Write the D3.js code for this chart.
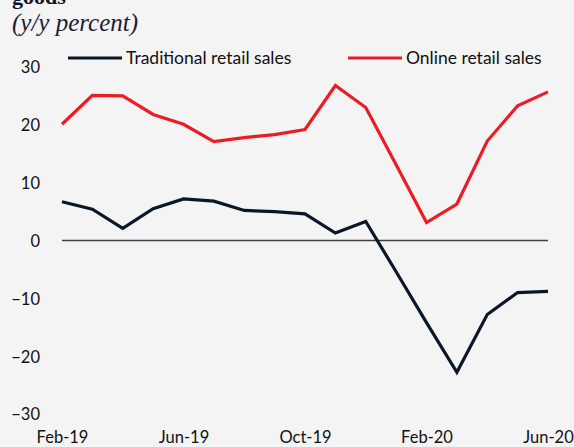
<!DOCTYPE html>
<html>
<head>
<meta charset="utf-8">
<script src="https://cdn.jsdelivr.net/npm/d3@7"></script>
<style>
html,body{margin:0;padding:0;background:#f4f4f4;}
svg{display:block;}
</style>
</head>
<body>
<svg id="chart" width="574" height="447"></svg>
<script>
const months = ["Feb-19","Mar-19","Apr-19","May-19","Jun-19","Jul-19","Aug-19","Sep-19","Oct-19","Nov-19","Dec-19","Jan-20","Feb-20","Mar-20","Apr-20","May-20","Jun-20"];
const traditional = [6.7, 5.4, 2.1, 5.5, 7.2, 6.8, 5.2, 5.0, 4.6, 1.3, 3.3, -5.4, -14.2, -22.8, -12.8, -9.0, -8.8];
const online = [20.1, 25.1, 25.0, 21.8, 20.1, 17.1, 17.8, 18.3, 19.2, 26.8, 23.0, 13.1, 3.1, 6.3, 17.2, 23.3, 25.7];
const xTickLabels = ["Feb-19","Jun-19","Oct-19","Feb-20","Jun-20"];
const yTicks = [30, 20, 10, 0, -10, -20, -30];
const seriesNames = ["Traditional retail sales", "Online retail sales"];
const seriesColors = ["#0c1629", "#ec1c24"];

const FONT = "Lato, 'Open Sans', sans-serif";
const svg = d3.select("#chart");
const x = d3.scalePoint().domain(months).range([62, 548]);
const y = d3.scaleLinear().domain([-30, 30]).range([414, 67]);

// title (partly cut off at top, as in the source)
svg.append("text").attr("x", 12).attr("y", 4)
  .style("font-family", "'Liberation Serif', 'Times New Roman', serif")
  .style("font-weight", "bold").style("font-size", "22px").attr("fill", "#0c1629")
  .text("goods");
svg.append("text").attr("x", 12).attr("y", 31)
  .style("font-family", "'Liberation Serif', 'Times New Roman', serif")
  .style("font-style", "italic").style("font-size", "25px").attr("fill", "#1a2233")
  .text("(y/y percent)");

// y axis labels
const yAxis = d3.axisLeft(y).tickValues(yTicks).tickSize(0).tickPadding(0).tickFormat(d3.format("d"));
const yg = svg.append("g").attr("transform", "translate(40,0)").call(yAxis);
yg.select(".domain").remove();
yg.selectAll("text").style("font-family", FONT)
  .style("font-size", "16.5px").attr("fill", "#111").attr("dy", "0.36em");

// x axis labels
const xAxis = d3.axisBottom(x).tickValues(xTickLabels).tickSize(0).tickPadding(0);
const xg = svg.append("g").attr("transform", "translate(0,431)").call(xAxis);
xg.select(".domain").remove();
xg.selectAll("text").style("font-family", FONT)
  .style("font-size", "16.5px").attr("fill", "#111");

// zero line
svg.append("line").attr("x1", x(months[0])).attr("x2", x(months[months.length-1]))
  .attr("y1", y(0)).attr("y2", y(0)).attr("stroke", "#404040").attr("stroke-width", 1.3);

const line = d3.line().x((d, i) => x(months[i])).y(d => y(d));
[traditional, online].forEach((s, k) => {
  svg.append("path").datum(s).attr("d", line).attr("fill", "none")
    .attr("stroke", seriesColors[k]).attr("stroke-width", 3.2)
    .attr("stroke-linejoin", "miter");
});

// legend
const legendX = [68, 348];
seriesNames.forEach((n, k) => {
  svg.append("line").attr("x1", legendX[k]).attr("x2", legendX[k] + 54)
    .attr("y1", 58).attr("y2", 58).attr("stroke", seriesColors[k]).attr("stroke-width", 3.2);
  svg.append("text").attr("x", legendX[k] + 58).attr("y", 58).attr("dy", "0.36em")
    .style("font-family", FONT).style("font-size", "17.5px")
    .attr("fill", "#111").text(n);
});
</script>
</body>
</html>
